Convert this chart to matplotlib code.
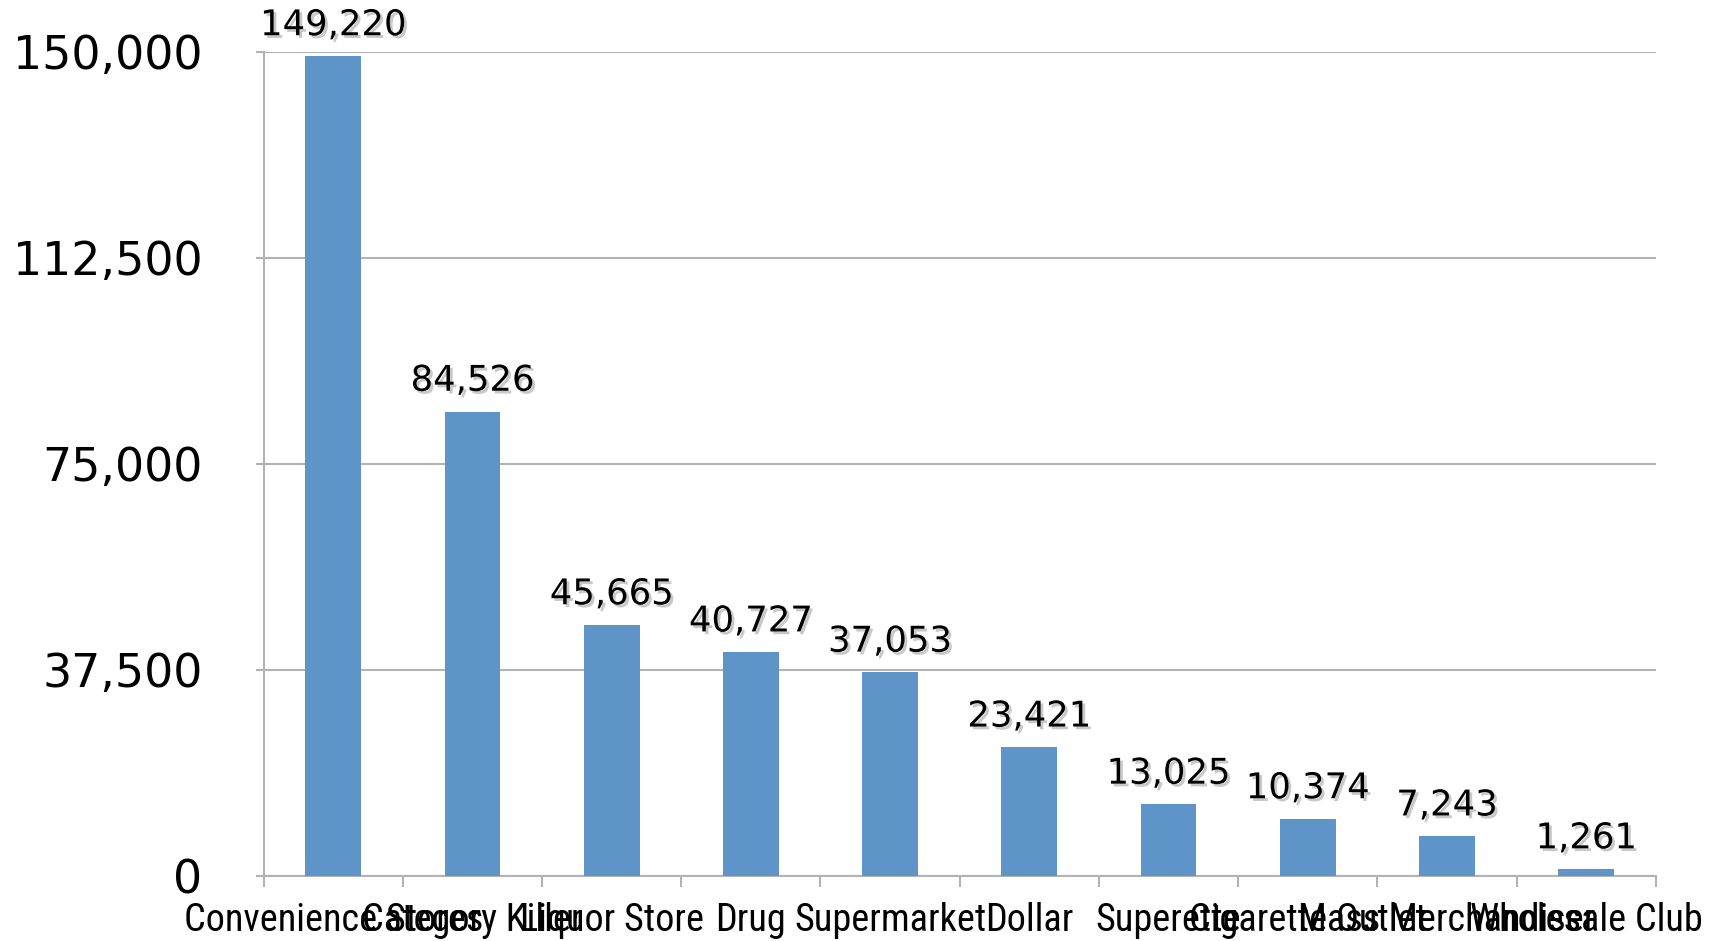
import matplotlib
matplotlib.use('Agg')
import matplotlib.pyplot as plt
import matplotlib.patheffects as pe
from matplotlib import font_manager
import numpy as np

categories = ['Convenience Stores', 'Category Killer', 'Liquor Store', 'Drug',
              'Supermarket', 'Dollar', 'Superette', 'Cigarette Outlet',
              'Mass Merchandiser', 'Wholesale Club']
values = [149220, 84526, 45665, 40727, 37053, 23421, 13025, 10374, 7243, 1261]
yticks = [0, 37500, 75000, 112500, 150000]

bar_color = '#5f94c8'
grid_color = '#b3b3b3'

# pick a narrow face for the category labels if there is one
names = set(f.name for f in font_manager.fontManager.ttflist)
narrow = 'Liberation Sans'
for cand in ['Liberation Sans Narrow', 'Roboto Condensed', 'DejaVu Sans Condensed', 'Open Sans Condensed']:
    if cand in names:
        narrow = cand
        break
xsize = 27.5 if narrow != 'Liberation Sans' else 24

fig = plt.figure(figsize=(17.23, 9.41), dpi=100)
ax = fig.add_axes([0.153, 0.069, 0.808, 0.876])

x = np.arange(len(categories))
ax.bar(x, values, width=0.4, color=bar_color, zorder=3)

ax.set_xlim(-0.5, len(categories) - 0.5)
ax.set_ylim(0, 150000)
ax.set_yticks(yticks)
ax.set_yticklabels(['{:,}'.format(v) for v in yticks], fontsize=33)
ax.yaxis.grid(True, color=grid_color, linewidth=1.5, zorder=0)
ax.tick_params(axis='y', length=6, width=1.5, color=grid_color, pad=38)

# category labels centred, ticks on category boundaries
ax.set_xticks(x)
ax.set_xticklabels(categories, fontsize=xsize, family=[narrow, 'DejaVu Sans'])
ax.tick_params(axis='x', length=0, pad=19)
ax.set_xticks(np.arange(len(categories) + 1) - 0.5, minor=True)
ax.tick_params(axis='x', which='minor', length=8, width=1.5, color=grid_color)

for s in ['top', 'right']:
    ax.spines[s].set_visible(False)
for s in ['left', 'bottom']:
    ax.spines[s].set_color(grid_color)
    ax.spines[s].set_linewidth(1.5)

shadow = [pe.withSimplePatchShadow(offset=(2, -2), shadow_rgbFace='#888888', alpha=0.45)]
for xi, v in zip(x, values):
    ax.annotate('{:,}'.format(v), (xi, v), xytext=(0, 15), textcoords='offset points',
                ha='center', va='baseline', fontsize=25.5, path_effects=shadow)

fig.savefig('out.png', dpi=100)
